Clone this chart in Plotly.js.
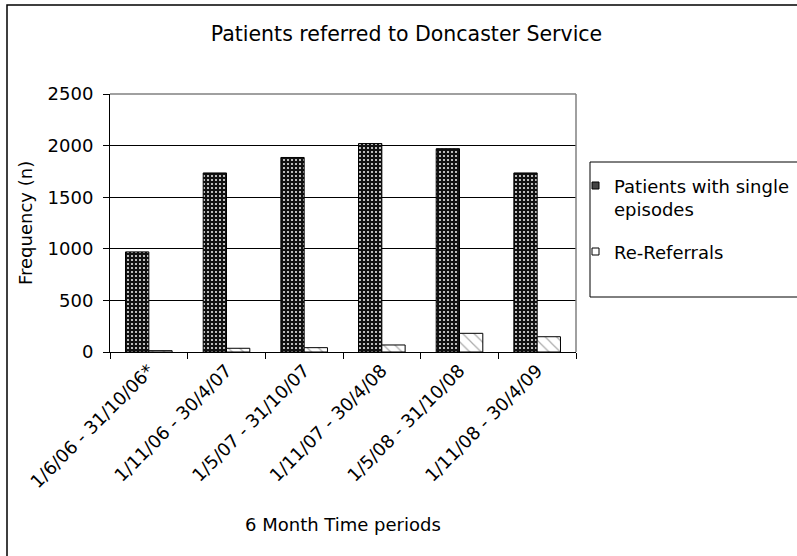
<!DOCTYPE html>
<html>
<head>
<meta charset="utf-8">
<script src="https://cdn.plot.ly/plotly-3.0.1.min.js"></script>
<style>
html,body{margin:0;padding:0;background:#fff;}
#chart{width:797px;height:556px;}
</style>
</head>
<body>
<div id="chart"></div>
<script>
// ---- data ----
var categories = ["1/6/06 - 31/10/06*", "1/11/06 - 30/4/07", "1/5/07 - 31/10/07", "1/11/07 - 30/4/08", "1/5/08 - 31/10/08", "1/11/08 - 30/4/09"];
var singleEpisodes = [970, 1735, 1885, 2020, 1970, 1735];
var reReferrals = [13, 36, 42, 68, 181, 148];
var seriesNames = ["Patients with single episodes", "Re-Referrals"];
var yTicks = [0, 500, 1000, 1500, 2000, 2500];

// ---- layout helpers (pixel -> paper) ----
var L = 110, R = 576, T = 94, B = 352;
function px(x){ return (x - L) / (R - L); }
function py(y){ return (B - y) / (B - T); }

var FONT = "DejaVu Sans, Verdana, sans-serif";

var traces = [
  {
    type: "bar", name: seriesNames[0], x: categories, y: singleEpisodes,
    marker: {
      color: "#111", line: {color: "#000", width: 1},
      pattern: {shape: ".", bgcolor: "#111", fgcolor: "#e6e6e6", size: 4, solidity: 0.22, fillmode: "replace"}
    },
    showlegend: false
  },
  {
    type: "bar", name: seriesNames[1], x: categories, y: reReferrals,
    marker: {
      color: "#fff", line: {color: "#000", width: 1},
      pattern: {shape: "\\", bgcolor: "#fff", fgcolor: "#aaa", size: 8, solidity: 0.15, fillmode: "replace"}
    },
    showlegend: false
  }
];

var layout = {
  width: 797, height: 556,
  margin: {l: L, r: 797 - R, t: T, b: 556 - B, pad: 0},
  paper_bgcolor: "#fff", plot_bgcolor: "#fff",
  font: {family: FONT, size: 18, color: "#000"},
  title: {text: "Patients referred to Doncaster Service", font: {family: FONT, size: 20.5, color: "#000"},
          xref: "container", yref: "container", x: 406.5/797, xanchor: "center", y: 1 - 34/556, yanchor: "middle"},
  barmode: "group", bargap: 0.4, bargroupgap: 0,
  showlegend: false,
  xaxis: {
    type: "category", tickson: "boundaries", ticks: "outside", ticklen: 6, tickcolor: "#000",
    showline: true, linecolor: "#000", linewidth: 1, showgrid: false,
    tickangle: -45, tickfont: {family: FONT, size: 18, color: "#000"},
    automargin: false, fixedrange: true
  },
  yaxis: {
    range: [0, 2500], tickvals: yTicks, ticktext: yTicks.map(String),
    ticks: "outside", ticklen: 6, tickcolor: "#000",
    showline: true, linecolor: "#000", linewidth: 1,
    showgrid: true, gridcolor: "#000", gridwidth: 1, zeroline: false,
    tickfont: {family: FONT, size: 18, color: "#000"}, ticklabelstandoff: 6,
    automargin: false, fixedrange: true
  },
  shapes: [
    // outer chart frame
    {type: "rect", xref: "paper", yref: "paper", x0: px(7), x1: px(820), y0: py(580), y1: py(5), line: {color: "#000", width: 1.5}, fillcolor: "rgba(0,0,0,0)", layer: "above"},
    // plot area grey border top / right
    {type: "line", xref: "paper", yref: "paper", x0: 0, x1: 1, y0: 1, y1: 1, line: {color: "#808080", width: 1.5}, layer: "above"},
    {type: "line", xref: "paper", yref: "paper", x0: 1, x1: 1, y0: 0, y1: 1, line: {color: "#808080", width: 1.5}, layer: "above"},
    // legend frame
    {type: "rect", xref: "paper", yref: "paper", x0: px(590), x1: px(820), y0: py(297), y1: py(162), line: {color: "#000", width: 1}, fillcolor: "#fff", layer: "above"},
    // legend swatches
    {type: "rect", xref: "paper", yref: "paper", x0: px(592), x1: px(599), y0: py(189), y1: py(182), line: {color: "#000", width: 1}, fillcolor: "#444", layer: "above"},
    {type: "rect", xref: "paper", yref: "paper", x0: px(592), x1: px(599), y0: py(255), y1: py(248), line: {color: "#000", width: 1}, fillcolor: "#fff", layer: "above"}
  ],
  annotations: [
    {text: "Patients with single<br>episodes", xref: "paper", yref: "paper", x: px(612), y: py(197.5), xanchor: "left", yanchor: "middle", align: "left", showarrow: false, font: {family: FONT, size: 18, color: "#000"}},
    {text: seriesNames[1], xref: "paper", yref: "paper", x: px(612), y: py(252), xanchor: "left", yanchor: "middle", align: "left", showarrow: false, font: {family: FONT, size: 18, color: "#000"}},
    {text: "Frequency (n)", xref: "paper", yref: "paper", x: px(25), y: 0.5, xanchor: "center", yanchor: "middle", textangle: -90, showarrow: false, font: {family: FONT, size: 18, color: "#000"}},
    {text: "6 Month Time periods", xref: "paper", yref: "paper", x: 0.5, y: py(524), xanchor: "center", yanchor: "middle", showarrow: false, font: {family: FONT, size: 18, color: "#000"}}
  ]
};

Plotly.newPlot("chart", traces, layout, {staticPlot: true, displayModeBar: false});
</script>
</body>
</html>
